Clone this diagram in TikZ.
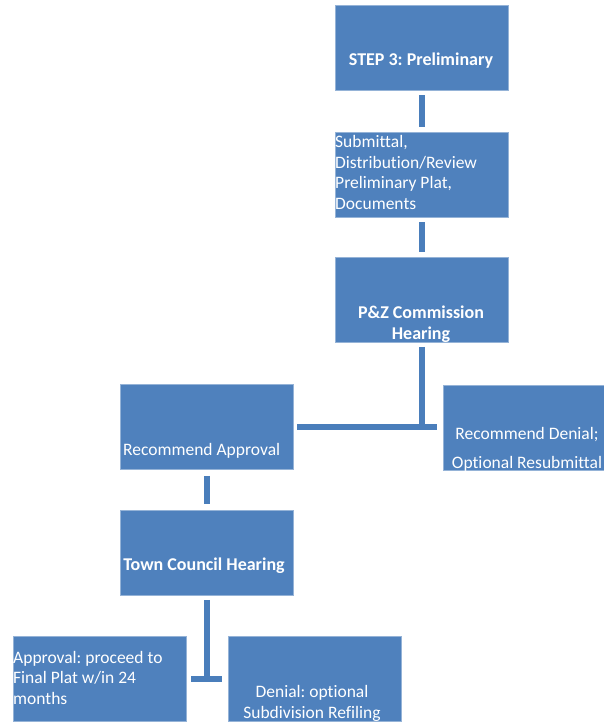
\documentclass[tikz,border=0pt]{standalone}
\usepackage{fontspec}
\setmainfont{Carlito}[Ligatures=NoCommon]
\frenchspacing
\definecolor{boxblue}{HTML}{4F81BD}
\definecolor{lineblue}{HTML}{4A7EBB}
\begin{document}
\begin{tikzpicture}[x=1pt,y=-1pt,
  box/.style={fill=boxblue,draw=boxblue!60!white,line width=0.6pt,minimum width=173pt,minimum height=85pt,inner sep=0pt},
  txt/.style={text=white,inner sep=0pt,font=\fontsize{17.5}{20.5}\selectfont},
  btxt/.style={txt,font=\fontsize{18}{21}\selectfont\bfseries},
  conn/.style={draw=lineblue,line width=6pt,line cap=butt}]
\useasboundingbox (0,0) rectangle (604,722);
\begin{scope}
\clip (0,0) rectangle (604,722);
% boxes
\node[box] (s3) at (421.5,47.5) {};
\node[box] (sub) at (421.5,174.5) {};
\node[box] (pz) at (421.5,300) {};
\node[box] (ra) at (206.5,427) {};
\node[box] (rd) at (529.5,427.5) {};
\node[box] (tc) at (206.5,553) {};
\node[box] (al) at (99.5,678.5) {};
\node[box] (dn) at (314.5,678.5) {};
% texts (base anchor = baseline of last line)
\node[btxt,anchor=base] (t1) at (421,66) {STEP 3: Preliminary};
\node[txt,anchor=base west,align=left] (t2) at (335,209) {Submittal,\\Distribution/Review\\Preliminary Plat,\\Documents};
\node[btxt,anchor=base,align=center] (t3) at (421,339) {P\&Z Commission\\Hearing};
\node[txt,anchor=base west] (t4) at (123,455) {Recommend Approval};
\node[txt,anchor=base,align=center] (t5) at (527,468) {Recommend Denial;\\[8.5pt]Optional Resubmittal};
\node[btxt,anchor=base] (t6) at (204,570) {Town Council Hearing};
\node[txt,anchor=base west,align=left] (t7) at (13,704) {Approval: proceed to\\Final Plat w/in 24\\months};
\node[txt,anchor=base,align=center] (t8) at (312,718) {Denial: optional\\Subdivision Refiling};
% connectors
\draw[conn,shorten <=5pt,shorten >=5pt] (s3) -- (sub);
\draw[conn,shorten <=5pt,shorten >=5pt] (sub) -- (pz);
\coordinate (j1) at (pz.south |- ra.east);
\draw[conn,shorten <=4pt,shorten >=-3pt] (pz.south) -- (j1);
\draw[conn,shorten <=4pt,shorten >=6pt] (ra.east) -- (rd.west |- ra.east);
\draw[conn,shorten <=6pt,shorten >=6pt] (ra) -- (tc);
\coordinate (j2) at (tc.south |- al.east);
\draw[conn,shorten <=4pt,shorten >=-3pt] (tc.south) -- (j2);
\draw[conn,shorten <=5pt,shorten >=6pt] (al.east) -- (dn.west);
\end{scope}
\end{tikzpicture}
\end{document}
